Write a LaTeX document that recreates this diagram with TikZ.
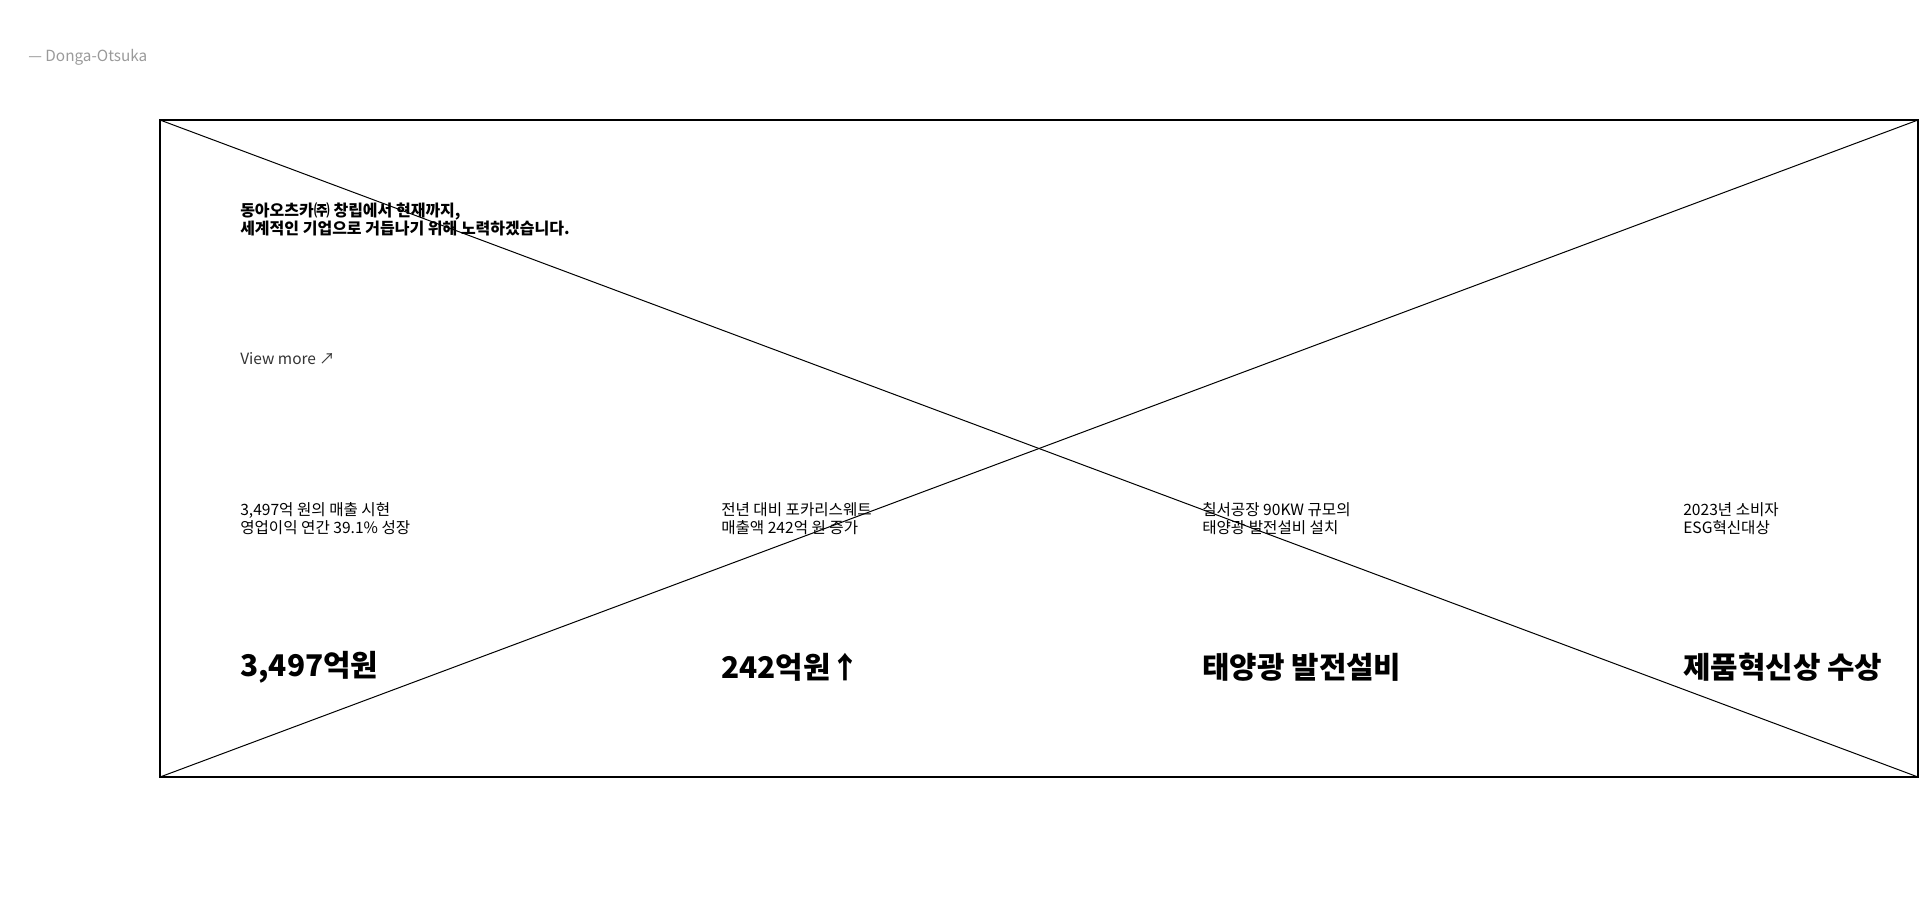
\documentclass[tikz,border=0pt]{standalone}
\usepackage{fontspec}
\setmainfont{Noto Sans CJK KR}
\usetikzlibrary{positioning}
\definecolor{brandgray}{HTML}{9A9A9A}
\definecolor{linkgray}{HTML}{333333}
\tikzset{
	every node/.style = {inner sep=0pt, anchor=west, align=left},
	brand/.style = {font=\fontsize{11.5}{14}\selectfont, text=brandgray},
	lead/.style = {font=\fontsize{12}{13.6}\selectfont\bfseries},
	link/.style = {font=\fontsize{11.6}{14}\selectfont, text=linkgray},
	note/.style = {font=\fontsize{11.7}{13.5}\selectfont},
	figure/.style = {font=\fontsize{22.4}{26}\selectfont\bfseries}
}

\begin{document}
\begin{tikzpicture}[x=0.75pt, y=-0.75pt]
		\useasboundingbox (0,0) rectangle (1920,900);
		% frame with crossed placeholder
		\coordinate (tl) at (160,120);
		\coordinate (br) at (1918,777);
		\draw[line width=1.5pt] (tl) rectangle (br);
		\draw[line width=0.75pt] (tl) -- (br);
		\draw[line width=0.75pt] (tl |- br) -- (br |- tl);
		
		\node[brand] (brand) at (28,57) {— Donga-Otsuka};
		
		\node[lead] (lead) at (240,219) {동아오츠카㈜ 창립에서 현재까지,\\세계적인 기업으로 거듭나기 위해 노력하겠습니다.};
		\node[link] (more) at (240,359) {View more ↗};
		
		% four columns
		\foreach \i/\txt/\big in {0/{3,497억 원의 매출 시현\\영업이익 연간 39.1\% 성장}/{3,497억원},
			1/{전년 대비 포카리스웨트\\매출액 242억 원 증가}/{242억원↑},
			2/{칠서공장 90KW 규모의\\태양광 발전설비 설치}/{태양광 발전설비},
			3/{2023년 소비자\\ESG혁신대상}/{제품혁신상 수상}}
		{
			\node[note] (note\i) at (240+481*\i,519) {\txt};
			\node[figure] (fig\i) at (240+481*\i,667) {\big};
		}
	\end{tikzpicture}
\end{document}
